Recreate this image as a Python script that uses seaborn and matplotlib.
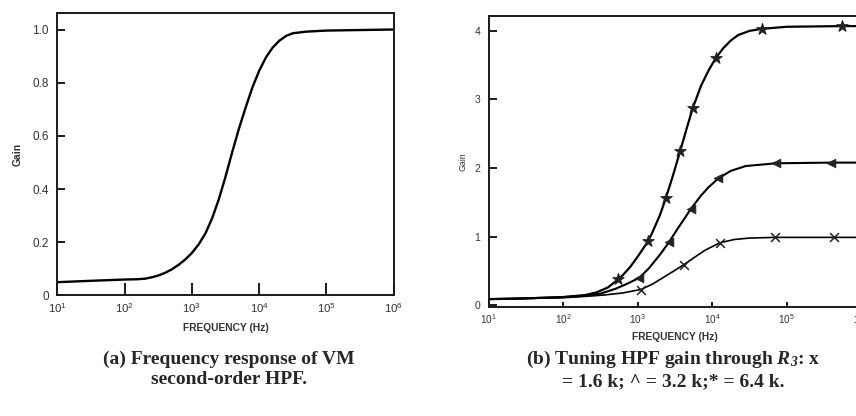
import matplotlib
matplotlib.use("Agg")
import matplotlib.pyplot as plt
import seaborn as sns

# (a) frequency response of the VM second-order HPF
freq_a = [10, 30, 100, 150, 200, 250, 316, 398, 501, 631, 794, 1000, 1259, 1585, 1995,
          2512, 3162, 3981, 5012, 6310, 7943, 10000, 12589, 15849, 19953, 25119, 31623,
          50119, 100000, 1000000]
gain_a = [0.050, 0.055, 0.060, 0.061, 0.063, 0.068, 0.075, 0.085, 0.098, 0.115, 0.135,
          0.160, 0.192, 0.233, 0.290, 0.362, 0.447, 0.540, 0.628, 0.708, 0.783, 0.845,
          0.895, 0.932, 0.958, 0.976, 0.986, 0.992, 0.996, 1.000]

# (b) tuning the gain through R3
freq_16 = [10, 30, 100, 200, 355, 631, 1100, 1585, 2239, 3162, 4130, 5623, 7943, 12600,
           19953, 31623, 69500, 430000, 1000000]
gain_16 = [0.09, 0.10, 0.11, 0.13, 0.15, 0.18, 0.23, 0.31, 0.41, 0.51, 0.59, 0.69,
           0.80, 0.91, 0.96, 0.98, 0.99, 0.99, 0.99]
mark_freq_16 = [1100, 4130, 12600, 69500, 430000]
mark_gain_16 = [0.23, 0.59, 0.91, 0.99, 0.99]

freq_32 = [10, 30, 100, 200, 316, 501, 708, 1050, 1413, 1995, 2630, 3548, 4467, 5210,
           7079, 8913, 12100, 17783, 28184, 71800, 390000, 1000000]
gain_32 = [0.09, 0.10, 0.12, 0.14, 0.17, 0.24, 0.31, 0.40, 0.54, 0.74, 0.92, 1.14,
           1.30, 1.41, 1.60, 1.72, 1.85, 1.96, 2.03, 2.07, 2.08, 2.08]
mark_freq_32 = [1050, 2630, 5210, 12100, 71800, 390000]
mark_gain_32 = [0.40, 0.92, 1.41, 1.85, 2.07, 2.08]

freq_64 = [10, 30, 100, 200, 282, 398, 550, 631, 794, 1000, 1370, 1585, 1995, 2400,
           2951, 3720, 4467, 5500, 7079, 8913, 11100, 14125, 17783, 22387, 31623,
           46000, 100000, 550000, 1000000]
gain_64 = [0.09, 0.10, 0.12, 0.15, 0.19, 0.26, 0.38, 0.44, 0.56, 0.71, 0.93, 1.07,
           1.32, 1.57, 1.88, 2.25, 2.55, 2.88, 3.20, 3.42, 3.60, 3.75, 3.86, 3.94, 4.00,
           4.03, 4.06, 4.07, 4.07]
mark_freq_64 = [550, 1370, 2400, 3720, 5500, 11100, 46000, 550000]
mark_gain_64 = [0.38, 0.93, 1.57, 2.25, 2.88, 3.60, 4.03, 4.07]

x_ticks = [10, 100, 1000, 10000, 100000, 1000000]
x_tick_labels = [r"$\mathregular{10^{%d}}$" % k for k in range(1, 7)]
y_ticks_a = [0, 0.2, 0.4, 0.6, 0.8, 1.0]
y_tick_labels_a = ["0", "0.2", "0.4", "0.6", "0.8", "1.0"]
y_ticks_b = [0, 1, 2, 3, 4]

caption_a = "(a) Frequency response of VM\nsecond-order HPF."
caption_b = r"(b) Tuning HPF gain through $\mathbfit{R_3}$: x" + "\n= 1.6 k; ^ = 3.2 k;* = 6.4 k."

sns.set_style("ticks")
plt.rcParams["font.family"] = ["Liberation Sans", "DejaVu Sans"]
plt.rcParams["mathtext.fontset"] = "custom"
plt.rcParams["mathtext.rm"] = "Liberation Sans"
plt.rcParams["mathtext.bfit"] = "Liberation Serif:italic:bold"

fig = plt.figure(figsize=(8.56, 4.16), dpi=100)
ax1 = fig.add_axes([0.067, 0.2897, 0.393, 0.679])
ax2 = fig.add_axes([0.571, 0.262, 0.435, 0.700])

sns.lineplot(x=freq_a, y=gain_a, ax=ax1, color="black", linewidth=1.7,
             estimator=None, sort=False)

for f, g, lw in [(freq_16, gain_16, 1.2), (freq_32, gain_32, 1.5), (freq_64, gain_64, 1.6)]:
    sns.lineplot(x=f, y=g, ax=ax2, color="black", linewidth=lw, estimator=None, sort=False)

sns.scatterplot(x=mark_freq_16, y=mark_gain_16, ax=ax2, marker="x", s=40,
                color="#222222", linewidth=1.1, zorder=3)
sns.scatterplot(x=mark_freq_32, y=mark_gain_32, ax=ax2, marker="<", s=40,
                color="#222222", edgecolor="#222222", zorder=3)
sns.scatterplot(x=mark_freq_64, y=mark_gain_64, ax=ax2, marker="*", s=75,
                color="#222222", edgecolor="#222222", zorder=3)

for ax in (ax1, ax2):
    ax.set_xscale("log")
    ax.set_xlim(10, 1e6)
    ax.set_xticks(x_ticks)
    ax.set_xticklabels(x_tick_labels)
    ax.minorticks_off()
    for sp in ax.spines.values():
        sp.set_linewidth(1.4)
        sp.set_color("#1a1a1a")
    ax.set_xlabel("FREQUENCY (Hz)", fontsize=7.4, weight="bold", color="#333333")

ax1.set_ylim(0, 1.062)
ax1.set_yticks(y_ticks_a)
ax1.set_yticklabels(y_tick_labels_a)
ax1.tick_params(axis="x", direction="in", length=9, width=1.4, pad=4, labelsize=8.2,
                colors="#1a1a1a", labelcolor="#333333")
ax1.tick_params(axis="y", direction="in", length=5.5, width=1.4, pad=6, labelsize=8.5,
                colors="#1a1a1a", labelcolor="#333333")
ax1.set_ylabel("Gain", fontsize=7.5, weight="bold", color="#333333", labelpad=7)
ax1.xaxis.labelpad = 6

ax2.set_ylim(-0.025, 4.22)
ax2.set_yticks(y_ticks_b)
ax2.tick_params(axis="x", direction="in", length=3.5, width=1.4, pad=4, labelsize=7.2,
                colors="#1a1a1a", labelcolor="#333333")
ax2.tick_params(axis="y", direction="in", length=6, width=1.4, pad=6, labelsize=7.5,
                colors="#1a1a1a", labelcolor="#333333")
ax2.set_ylabel("Gain", fontsize=6.3, color="#333333", labelpad=5)
ax2.xaxis.labelpad = 4

fig.text(0.2675, 0.112, caption_a, ha="center", va="center", fontsize=14,
         family="Liberation Serif", weight="bold", linespacing=1.2)
fig.text(0.786, 0.112, caption_b, ha="center", va="center", fontsize=14,
         family="Liberation Serif", weight="bold", linespacing=1.2)

fig.savefig("out.png", dpi=100)
